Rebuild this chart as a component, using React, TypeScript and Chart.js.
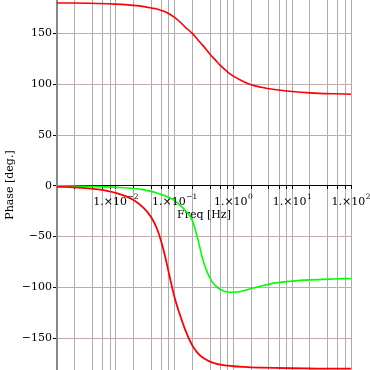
import React, { useEffect, useRef } from "react";
import { Chart, registerables } from "chart.js";

Chart.register(...registerables);

// Frequencies [Hz] at which the curves were read
const freqs = [0.001, 0.002, 0.005, 0.01, 0.02, 0.03, 0.04, 0.05, 0.06, 0.07, 0.08, 0.1, 0.12, 0.15, 0.2, 0.25, 0.3, 0.4, 0.5, 0.6, 0.8, 1, 1.5, 2, 3, 5, 10, 20, 50, 100];

// Phase [deg.] series
const phaseRedLow = [-1, -1.5, -3.5, -7, -14, -22, -31, -42, -56, -71, -86, -110, -125, -141, -157, -165, -169, -173, -175, -176, -177, -177.6, -178.3, -178.7, -179, -179.3, -179.6, -179.8, -180, -180];
const phaseGreen = [0, -0.3, -0.8, -1.5, -2.6, -4, -5.5, -7, -8.5, -10, -11.5, -14.5, -18.5, -24, -34, -53, -72, -91, -98.5, -102, -104.6, -104.8, -103.3, -101, -98.5, -95.8, -93.8, -92.6, -91.7, -91.2];
const phaseRedHigh = [180, 179.9, 179.5, 178.8, 177.6, 176.4, 175, 174, 172.5, 171, 169.3, 165.8, 162, 156.5, 150, 143.5, 138.5, 129.5, 123.5, 118.5, 112, 108, 102.5, 99.5, 97, 94.8, 92.8, 91.5, 90.6, 90.2];

// Axis ticks
const xGridMantissas = [1, 2, 4, 6, 8];
const xGridDecades = [-3, -2, -1, 0, 1];
const xLabelExponents = [-2, -1, 0, 1, 2];
const yTicks = [-150, -100, -50, 0, 50, 100, 150];

const FONT = '"DejaVu Serif", serif';

const xLabelPlugin = {
  id: "xPowerLabels",
  afterDraw(chart: any) {
    const ctx = chart.ctx;
    const xs = chart.scales.x;
    const ys = chart.scales.y;
    const y0 = ys.getPixelForValue(0);
    ctx.save();
    ctx.fillStyle = "#000";
    ctx.textBaseline = "alphabetic";
    ctx.textAlign = "left";
    for (const e of xLabelExponents) {
      const x = xs.getPixelForValue(Math.pow(10, e));
      const base = "1.×10";
      const sup = e < 0 ? "−" + Math.abs(e) : String(e);
      ctx.font = "11px " + FONT;
      const w1 = ctx.measureText(base).width;
      ctx.font = "7.5px " + FONT;
      const w2 = ctx.measureText(sup).width;
      const left = x - (w1 + w2 + 0.5) / 2;
      ctx.font = "11px " + FONT;
      ctx.fillText(base, left, y0 + 19);
      ctx.font = "7.5px " + FONT;
      ctx.fillText(sup, left + w1 + 0.5, y0 + 13);
    }
    ctx.restore();
  },
};

export default function App() {
  const ref = useRef<HTMLCanvasElement | null>(null);

  useEffect(() => {
    if (!ref.current) return;
    const xGrid: number[] = [];
    for (const d of xGridDecades) for (const m of xGridMantissas) xGrid.push(m * Math.pow(10, d));
    xGrid.push(100);

    const mk = (arr: number[]) => freqs.map((f, i) => ({ x: f, y: arr[i] }));

    const chart = new Chart(ref.current, {
      type: "line",
      data: {
        datasets: [
          { data: mk(phaseRedLow), borderColor: "#ff0000", borderWidth: 1.8, pointRadius: 0, cubicInterpolationMode: "monotone", fill: false },
          { data: mk(phaseGreen), borderColor: "#00ff00", borderWidth: 1.6, pointRadius: 0, cubicInterpolationMode: "monotone", fill: false },
          { data: mk(phaseRedHigh), borderColor: "#ff0000", borderWidth: 1.6, pointRadius: 0, cubicInterpolationMode: "monotone", fill: false },
        ],
      },
      options: {
        animation: false,
        responsive: false,
        devicePixelRatio: 1,
        layout: { padding: { left: 0, right: 19, top: 0, bottom: 0 } },
        plugins: { legend: { display: false }, tooltip: { enabled: false } },
        scales: {
          x: {
            type: "logarithmic",
            min: 0.001,
            max: 100,
            position: { y: 0 } as any,
            afterBuildTicks: (s: any) => {
              s.ticks = xGrid.map((v) => ({ value: v }));
            },
            afterFit: (s: any) => {
              s.paddingLeft = 0;
              s.paddingRight = 0;
            },
            ticks: { display: false, autoSkip: false },
            grid: { color: "rgb(172,172,172)", lineWidth: 1, tickColor: "#000", tickLength: 3 },
            border: { color: "#000", width: 1 },
            title: { display: true, text: "Freq [Hz]", color: "#000", font: { family: FONT, size: 11 }, padding: { top: 20, bottom: 0 } },
          },
          y: {
            type: "linear",
            min: -181.3,
            max: 182.9,
            afterBuildTicks: (s: any) => {
              s.ticks = yTicks.map((v) => ({ value: v }));
            },
            afterFit: (s: any) => {
              s.width = 57;
              s.paddingTop = 0;
              s.paddingBottom = 0;
            },
            ticks: {
              color: "#000",
              padding: 1,
              font: { family: FONT, size: 11 },
              callback: (v: any) => (v < 0 ? "−" + Math.abs(v) : String(v)),
            },
            grid: {
              color: (c: any) => (c.tick && c.tick.value === 0 ? "rgba(0,0,0,0)" : "rgb(192,170,172)"),
              lineWidth: 1,
              tickColor: "#000",
              tickLength: 4,
            },
            border: { color: "#888", width: 2 },
            title: { display: true, text: "Phase [deg.]", color: "#000", font: { family: FONT, size: 11 }, padding: { top: 3.5, bottom: 0 } },
          },
        },
      },
      plugins: [xLabelPlugin],
    });
    return () => chart.destroy();
  }, []);

  return (
    <div style={{ position: "absolute", left: 0, top: 0, width: 370, height: 370 }}>
      <canvas ref={ref} width={370} height={370} />
    </div>
  );
}
